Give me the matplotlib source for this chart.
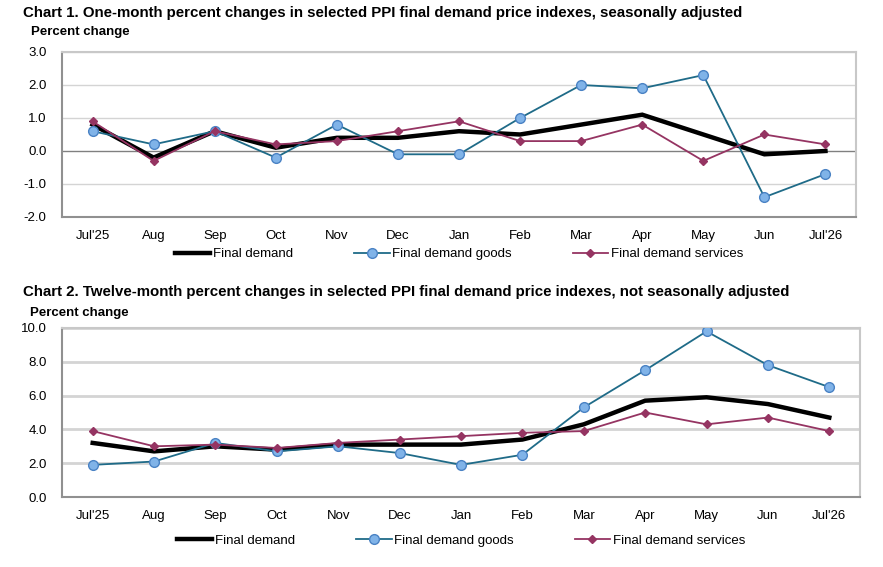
import numpy as np
import matplotlib
matplotlib.use("Agg")
import matplotlib.pyplot as plt

plt.rcParams['font.family'] = ['Liberation Sans', 'DejaVu Sans']

# month labels shared by both charts
months = ["Jul'25", "Aug", "Sep", "Oct", "Nov", "Dec", "Jan",
          "Feb", "Mar", "Apr", "May", "Jun", "Jul'26"]

# Chart 1: one-month percent changes, seasonally adjusted
m_final = [0.8, -0.2, 0.6, 0.1, 0.4, 0.4, 0.6, 0.5, 0.8, 1.1, 0.5, -0.1, 0.0]
m_goods = [0.6, 0.2, 0.6, -0.2, 0.8, -0.1, -0.1, 1.0, 2.0, 1.9, 2.3, -1.4, -0.7]
m_services = [0.9, -0.3, 0.6, 0.2, 0.3, 0.6, 0.9, 0.3, 0.3, 0.8, -0.3, 0.5, 0.2]

# Chart 2: twelve-month percent changes, not seasonally adjusted
y_final = [3.2, 2.7, 3.0, 2.8, 3.1, 3.1, 3.1, 3.4, 4.3, 5.7, 5.9, 5.5, 4.7]
y_goods = [1.9, 2.1, 3.2, 2.7, 3.0, 2.6, 1.9, 2.5, 5.3, 7.5, 9.8, 7.8, 6.5]
y_services = [3.9, 3.0, 3.1, 2.9, 3.2, 3.4, 3.6, 3.8, 3.9, 5.0, 4.3, 4.7, 3.9]

labels = ["Final demand", "Final demand goods", "Final demand services"]

goods_line = '#1f6b88'
goods_face = '#80b3e8'
goods_edge = '#4a82c4'
serv_color = '#953462'

W, H = 883, 567
fig = plt.figure(figsize=(W / 100, H / 100), dpi=100)


def draw_chart(rect, final, goods, services, ylim, yticks, grid_lw, zero_line):
    ax = fig.add_axes(rect)
    x = np.arange(len(months))
    for y in yticks:
        if zero_line and y == 0:
            continue
        ax.axhline(y, color='#d4d4d4', lw=grid_lw, zorder=0)
    if zero_line:
        ax.axhline(0, color='#808080', lw=1.0, zorder=1)
    ax.plot(x, final, color='black', lw=3.2, zorder=3, label=labels[0],
            solid_joinstyle='miter')
    ax.plot(x, goods, color=goods_line, lw=1.3, marker='o', ms=7,
            mfc=goods_face, mec=goods_edge, mew=1.0, zorder=4, label=labels[1])
    ax.plot(x, services, color=serv_color, lw=1.3, marker='D', ms=4.5,
            mfc=serv_color, mec=serv_color, zorder=5, label=labels[2])
    ax.set_xlim(-0.5, 12.5)
    ax.set_ylim(*ylim)
    ax.set_xticks(x)
    ax.set_xticklabels(months, fontsize=9.5, va='baseline')
    ax.set_yticks(yticks)
    ax.set_yticklabels([f"{v:.1f}" for v in yticks], fontsize=9.5)
    ax.tick_params(length=0)
    ax.tick_params(axis='x', pad=16)
    ax.tick_params(axis='y', pad=11)
    for side in ['top', 'right']:
        ax.spines[side].set_color('#c8c8c8')
        ax.spines[side].set_linewidth(1.5)
    for side in ['left', 'bottom']:
        ax.spines[side].set_color('#909090')
        ax.spines[side].set_linewidth(1.5)
    return ax


# Chart 1
ax1 = draw_chart([62 / W, 1 - 217 / H, 794 / W, 165 / H],
                 m_final, m_goods, m_services, (-2.0, 3.0),
                 [-2.0, -1.0, 0.0, 1.0, 2.0, 3.0], 1.0, True)
fig.text(23 / W, 1 - 13 / H,
         "Chart 1. One-month percent changes in selected PPI final demand price indexes, seasonally adjusted",
         fontsize=10.8, fontweight='bold', va='center', ha='left')
fig.text(31 / W, 1 - 32 / H, "Percent change", fontsize=9.5, fontweight='bold',
         va='center', ha='left')
ax1.legend(loc='center', bbox_to_anchor=(0.5, -0.225), ncol=3, frameon=False,
           fontsize=9.5, handlelength=2.7, handletextpad=0.2, columnspacing=4.6,
           borderaxespad=0)

# Chart 2
ax2 = draw_chart([62 / W, 1 - 497 / H, 798 / W, 169 / H],
                 y_final, y_goods, y_services, (0.0, 10.0),
                 [0.0, 2.0, 4.0, 6.0, 8.0, 10.0], 2.0, False)
fig.text(23 / W, 1 - 292 / H,
         "Chart 2. Twelve-month percent changes in selected PPI final demand price indexes, not seasonally adjusted",
         fontsize=10.8, fontweight='bold', va='center', ha='left')
fig.text(30 / W, 1 - 313 / H, "Percent change", fontsize=9.5, fontweight='bold',
         va='center', ha='left')
ax2.legend(loc='center', bbox_to_anchor=(0.5, -0.26), ncol=3, frameon=False,
           fontsize=9.5, handlelength=2.7, handletextpad=0.2, columnspacing=4.6,
           borderaxespad=0)

fig.savefig('out.png', dpi=100)
